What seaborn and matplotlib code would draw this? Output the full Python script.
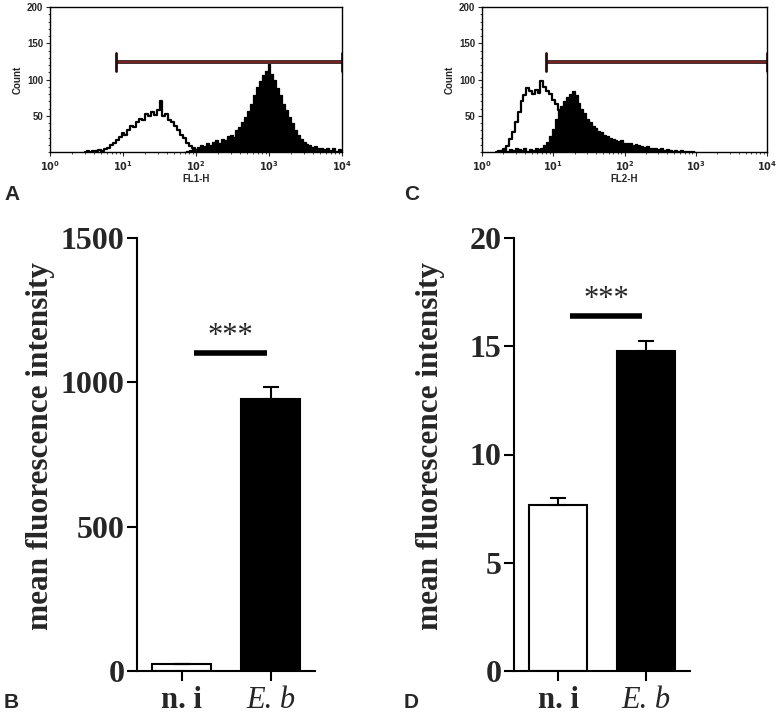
import numpy as np
import pandas as pd
import matplotlib
matplotlib.use("Agg")
import matplotlib.pyplot as plt
import seaborn as sns

sns.set_theme(style="ticks")
plt.rcParams['font.family'] = ['Liberation Sans', 'DejaVu Sans']

# ---------------- data ----------------
# Panel A (FL1-H), log10 positions and counts
a_open_log = [0.48, 0.52, 0.56, 0.60, 0.64, 0.68, 0.72, 0.76, 0.80, 0.84, 0.88, 0.92, 0.96, 1.00,
              1.04, 1.08, 1.12, 1.16, 1.20, 1.24, 1.28, 1.32, 1.36, 1.40, 1.44, 1.48, 1.52, 1.56,
              1.60, 1.64, 1.68, 1.72, 1.76, 1.80, 1.84, 1.88, 1.92, 1.96, 2.00, 2.04, 2.08, 2.12]
a_open_cnt = [0, 1, 0, 2, 1, 3, 2, 4, 6, 9, 12, 17, 21, 26,
              24, 31, 36, 34, 42, 46, 44, 52, 49, 55, 51, 58, 70, 50,
              52, 44, 41, 36, 31, 24, 19, 13, 8, 5, 3, 1, 0, 0]
a_fill_log = [1.84, 1.88, 1.92, 1.96, 2.00, 2.04, 2.08, 2.12, 2.16, 2.20, 2.24, 2.28, 2.32, 2.36,
              2.40, 2.44, 2.48, 2.52, 2.56, 2.60, 2.64, 2.68, 2.72, 2.76, 2.80, 2.84, 2.88, 2.92,
              2.96, 3.00, 3.04, 3.08, 3.12, 3.16, 3.20, 3.24, 3.28, 3.32, 3.36, 3.40, 3.44, 3.48,
              3.52, 3.56, 3.60, 3.64, 3.68, 3.72, 3.76, 3.80, 3.84, 3.88, 3.92, 3.96, 4.00]
a_fill_cnt = [0, 1, 3, 5, 4, 7, 9, 8, 12, 10, 14, 17, 13, 18,
              16, 22, 24, 21, 30, 35, 42, 48, 57, 66, 78, 90, 98, 106,
              112, 121, 108, 100, 88, 78, 66, 58, 48, 40, 30, 24, 18, 14,
              11, 9, 7, 8, 5, 6, 4, 6, 3, 5, 2, 4, 3]

# Panel C (FL2-H)
c_open_log = [0.20, 0.24, 0.28, 0.32, 0.36, 0.40, 0.44, 0.48, 0.52, 0.56, 0.60, 0.64, 0.68, 0.72,
              0.76, 0.80, 0.84, 0.88, 0.92, 0.96, 1.00, 1.04, 1.08, 1.12, 1.16, 1.20, 1.24, 1.28,
              1.32, 1.36, 1.40, 1.44]
c_open_cnt = [0, 2, 1, 4, 8, 18, 28, 42, 55, 70, 78, 88, 84, 80,
              86, 82, 98, 90, 84, 80, 72, 66, 58, 50, 38, 26, 16, 9,
              5, 2, 1, 0]
c_fill_log = [0.20, 0.24, 0.28, 0.32, 0.36, 0.40, 0.44, 0.48, 0.52, 0.56, 0.60, 0.64, 0.68, 0.72,
              0.76, 0.80, 0.84, 0.88, 0.92, 0.96, 1.00, 1.04, 1.08, 1.12, 1.16, 1.20, 1.24, 1.28,
              1.32, 1.36, 1.40, 1.44, 1.48, 1.52, 1.56, 1.60, 1.64, 1.68, 1.72, 1.76, 1.80, 1.84,
              1.88, 1.92, 1.96, 2.00, 2.04, 2.08, 2.12, 2.16, 2.20, 2.24, 2.28, 2.32, 2.36, 2.40,
              2.44, 2.48, 2.52, 2.56, 2.60, 2.64, 2.68, 2.72, 2.76, 2.80, 2.84, 2.88, 2.92, 2.96, 3.00]
c_fill_cnt = [0, 1, 3, 5, 2, 4, 3, 6, 4, 3, 5, 2, 4, 3,
              5, 4, 6, 9, 14, 22, 32, 45, 58, 64, 70, 76, 80, 84,
              78, 68, 60, 54, 46, 42, 36, 33, 29, 27, 24, 22, 20, 18,
              17, 15, 16, 13, 12, 13, 10, 11, 9, 8, 7, 8, 6, 5,
              6, 4, 5, 3, 4, 3, 2, 3, 2, 3, 2, 1, 2, 1, 0]

gate_log = [0.9, 4.0]
gate_count = 124

hist_yticks = [50, 100, 150, 200]
hist_xticks = [0, 1, 2, 3, 4]

# Panels B and D (bar charts)
groups = ["n. i", "E. b"]
b_means = [23, 942]
b_errs = [0, 41]
d_means = [7.69, 14.76]
d_errs = [0.31, 0.46]
b_sig = 1103
d_sig = 16.4
b_yticks = [0, 500, 1000, 1500]
d_yticks = [0, 5, 10, 15, 20]

# ---------------- figure ----------------
fig = plt.figure(figsize=(7.78, 7.14), dpi=100)
W, H = 778, 714

def ax_px(x0, x1, ytop, ybot):
    return fig.add_axes([x0 / W, 1 - ybot / H, (x1 - x0) / W, (ybot - ytop) / H])

axA = ax_px(50, 342, 7, 152)
axC = ax_px(482, 767, 7, 152)
axB = ax_px(137, 315, 238, 671)
axD = ax_px(514, 690, 238, 671)

def hist_panel(ax, olog, ocnt, flog, fcnt, xlabel):
    ox = [10 ** v for v in olog]
    fx = [10 ** v for v in flog]
    ax.fill_between(fx, fcnt, 0, step="mid", color="black", lw=0, zorder=2)
    sns.lineplot(x=fx, y=fcnt, ax=ax, color="black", lw=0.9, drawstyle="steps-mid",
                 estimator=None, sort=False, zorder=3)
    sns.lineplot(x=ox, y=ocnt, ax=ax, color="black", lw=1.6, drawstyle="steps-mid",
                 estimator=None, sort=False, zorder=4)
    ax.set_xscale("log")
    ax.set_xlim(1, 1e4)
    ax.set_ylim(0, 200)
    ax.set_xticks([10 ** v for v in hist_xticks])
    ax.set_xticklabels([r"$\mathbf{10^{%d}}$" % v for v in hist_xticks], fontsize=7)
    ax.set_yticks(hist_yticks)
    ax.set_yticklabels([str(v) for v in hist_yticks], fontsize=7, fontweight="bold")
    ax.yaxis.set_minor_locator(matplotlib.ticker.MultipleLocator(10))
    ax.tick_params(axis="both", which="major", length=3, width=0.8, pad=2)
    ax.tick_params(axis="both", which="minor", length=1.5, width=0.6)
    ax.set_xlabel(xlabel, fontsize=7, fontweight="bold", labelpad=1)
    ax.set_ylabel("Count", fontsize=7, fontweight="bold", labelpad=3)
    for s in ax.spines.values():
        s.set_linewidth(1.0)
        s.set_color("black")
    # gate marker
    gx = [10 ** v for v in gate_log]
    ax.plot(gx, [gate_count, gate_count], color="#1a0505", lw=2.6, zorder=5, solid_capstyle="butt")
    ax.plot(gx, [gate_count, gate_count], color="#8b2a2a", lw=1.2, zorder=6, solid_capstyle="butt")
    for g in gx:
        ax.plot([g, g], [gate_count - 12, gate_count + 12], color="#2a0a0a", lw=2.0, zorder=6)

hist_panel(axA, a_open_log, a_open_cnt, a_fill_log, a_fill_cnt, "FL1-H")
hist_panel(axC, c_open_log, c_open_cnt, c_fill_log, c_fill_cnt, "FL2-H")

serif = ["Liberation Serif", "DejaVu Serif"]

def bar_panel(ax, means, errs, yticks, sig_y, star_off, label_x):
    df = pd.DataFrame({"group": groups, "value": means})
    sns.barplot(data=df, x="group", y="value", ax=ax, width=0.67,
                palette=["white", "black"], hue="group", legend=False,
                edgecolor="black", linewidth=1.5, errorbar=None)
    ax.errorbar([0, 1], means, yerr=[[0, 0], errs], fmt="none", ecolor="black",
                elinewidth=1.5, capsize=6, capthick=1.5, zorder=5)
    ax.set_xlim(-0.5, 1.5)
    ax.set_ylim(0, yticks[-1])
    ax.set_yticks(yticks)
    ax.set_yticklabels([str(v) for v in yticks], fontsize=23, fontweight="bold", family=serif)
    ax.set_xticks([0, 1])
    ax.set_xticklabels([])
    ax.text(0, -0.035, "n. i", transform=ax.get_xaxis_transform(), ha="center", va="top",
            fontsize=22, fontweight="bold", family=serif)
    ax.text(1, -0.035, "E. b", transform=ax.get_xaxis_transform(), ha="center", va="top",
            fontsize=22, fontstyle="italic", family=serif)
    ax.set_xlabel("")
    ax.set_ylabel("mean fluorescence intensity", fontsize=22.5, fontweight="bold",
                  family=serif)
    ax.yaxis.set_label_coords(label_x, 0.52)
    sns.despine(ax=ax)
    for s in ("left", "bottom"):
        ax.spines[s].set_linewidth(1.5)
        ax.spines[s].set_color("black")
    ax.tick_params(axis="both", length=7, width=1.5, pad=2, color="black")
    ax.plot([0.14, 0.96], [sig_y, sig_y], color="black", lw=4, solid_capstyle="butt")
    ax.text(0.55, sig_y + star_off, "***", ha="center", va="bottom", fontsize=22,
            family=serif)

bar_panel(axB, b_means, b_errs, b_yticks, b_sig, 5, -0.46)
bar_panel(axD, d_means, d_errs, d_yticks, d_sig, 0.07, -0.39)

# panel letters
for lab, x, y in [("A", 4, 200), ("C", 404, 200), ("B", 4, 708), ("D", 404, 708)]:
    fig.text(x / W, 1 - y / H, lab, fontsize=15, fontweight="bold", ha="left", va="baseline")

fig.savefig("out.png", dpi=100, facecolor="white")
